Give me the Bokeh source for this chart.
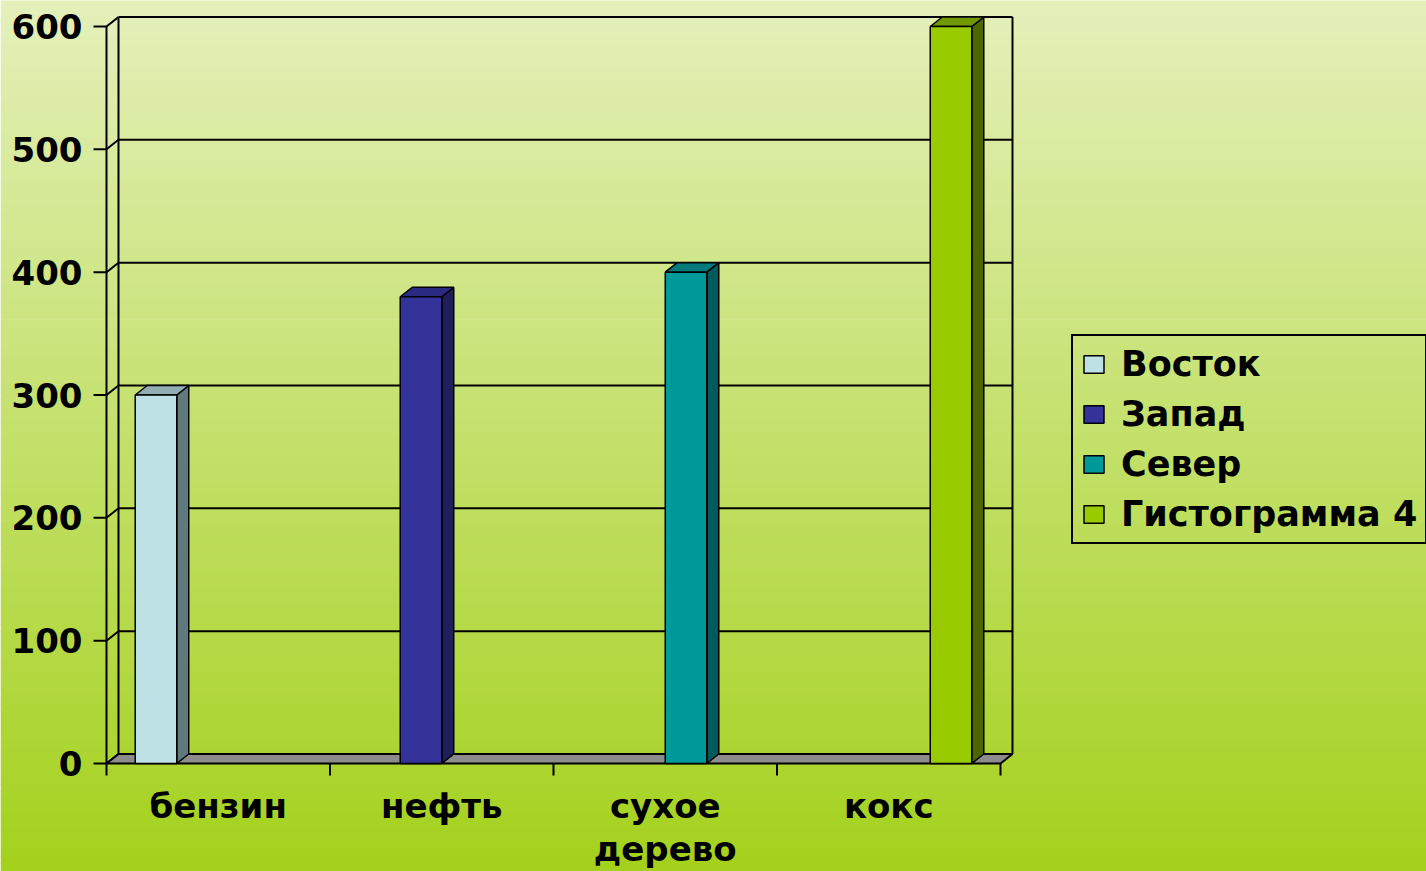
from bokeh.plotting import figure
from bokeh.models import Range1d, Legend, LegendItem
from bokeh.embed import file_html
from bokeh.resources import INLINE
from bokeh.core.properties import value

# ---------------- data ----------------
categories = ["бензин", "нефть", "сухое\nдерево", "кокс"]
series_names = ["Восток", "Запад", "Север", "Гистограмма 4"]
vostok = [300, 0, 0, 0]
zapad = [0, 380, 0, 0]
sever = [0, 0, 400, 0]
gist4 = [0, 0, 0, 600]
y_ticks = [0, 100, 200, 300, 400, 500, 600]

series_values = [vostok, zapad, sever, gist4]
front_colors = ["#bde1e4", "#333399", "#009999", "#99cc00"]
side_colors = ["#5f7a7c", "#1f1f5c", "#005c5c", "#4d6600"]
top_colors = ["#93aeb2", "#2a2a80", "#007a7a", "#739900"]

# ---------------- layout constants ----------------
W, H = 1426, 871
PX_PER_CAT = 223.5
PX_PER_VAL = 737 / 600
X0_PX = 106    # category-0 position from figure left
Y0_PX = 763    # value-0 position from figure top
x_start = -X0_PX / PX_PER_CAT
x_end = (W - X0_PX) / PX_PER_CAT
y_end = Y0_PX / PX_PER_VAL
y_start = -(H - Y0_PX) / PX_PER_VAL
DX = 12 / PX_PER_CAT
DY = 9.5 / PX_PER_VAL
NCAT = len(categories)
NSER = len(series_names)
GAP = 0.1285
BW = (1 - 2 * GAP) / NSER
FONT = value("DejaVu Sans")

p = figure(width=W, height=H, x_range=Range1d(x_start, x_end), y_range=Range1d(y_start, y_end),
           output_backend="svg", toolbar_location=None, min_border=0,
           x_axis_location=None, y_axis_location=None, outline_line_color=None)
p.grid.visible = False

# ---------------- gradient background ----------------
top_c = (0xe4, 0xf0, 0xba)
bot_c = (0xa4, 0xd1, 0x1c)
n = 120
bands_b, bands_t, bands_c = [], [], []
for k in range(n):
    f = k / (n - 1)
    b = y_start + (y_end - y_start) * k / n
    t = y_start + (y_end - y_start) * (k + 1) / n
    c = tuple(int(round(bot_c[i] + (top_c[i] - bot_c[i]) * f)) for i in range(3))
    bands_b.append(b)
    bands_t.append(t + 0.6)
    bands_c.append("#%02x%02x%02x" % c)
p.quad(left=x_start, right=x_end, bottom=bands_b, top=bands_t, fill_color=bands_c, line_color=None)

# ---------------- back wall gridlines ----------------
grid_vals = y_ticks[1:]
p.segment(x0=[DX] * len(grid_vals), y0=[v + DY for v in grid_vals],
          x1=[NCAT + DX] * len(grid_vals), y1=[v + DY for v in grid_vals],
          line_color="black", line_width=2)
# left connectors between front axis and wall
p.segment(x0=[0] * len(y_ticks), y0=y_ticks, x1=[DX] * len(y_ticks), y1=[v + DY for v in y_ticks],
          line_color="black", line_width=2)
# wall verticals
ymax = y_ticks[-1]
p.segment(x0=[DX, NCAT + DX], y0=[DY, DY], x1=[DX, NCAT + DX], y1=[ymax + DY, ymax + DY],
          line_color="black", line_width=2)

# ---------------- floor ----------------
p.patch(x=[0, NCAT, NCAT + DX, DX], y=[0, 0, DY, DY], fill_color="#8c8c8c",
        line_color="black", line_width=2)

# ---------------- bars ----------------
legend_items = []
for j in range(NSER):
    vals = series_values[j]
    lefts, rights, tops = [], [], []
    for i in range(NCAT):
        if vals[i] > 0:
            x0 = i + GAP + j * BW
            lefts.append(x0)
            rights.append(x0 + BW)
            tops.append(vals[i])
    side_xs = [[r, r + DX, r + DX, r] for r in rights]
    side_ys = [[0, DY, t + DY, t] for t in tops]
    top_xs = [[l, r, r + DX, l + DX] for l, r in zip(lefts, rights)]
    top_ys = [[t, t, t + DY, t + DY] for t in tops]
    p.patches(xs=side_xs, ys=side_ys, fill_color=side_colors[j], line_color="black", line_width=1.5)
    p.patches(xs=top_xs, ys=top_ys, fill_color=top_colors[j], line_color="black", line_width=1.5)
    r = p.quad(left=lefts, right=rights, bottom=[0] * len(tops), top=tops,
               fill_color=front_colors[j], line_color="black", line_width=1.5)
    legend_items.append(LegendItem(label=series_names[j], renderers=[r]))

# ---------------- front axes ----------------
p.segment(x0=[0], y0=[0], x1=[0], y1=[ymax], line_color="black", line_width=2)
tick_len_x = 13 / PX_PER_CAT
p.segment(x0=[-tick_len_x] * len(y_ticks), y0=y_ticks, x1=[0] * len(y_ticks), y1=y_ticks,
          line_color="black", line_width=2)
tick_len_y = 12 / PX_PER_VAL
cat_edges = list(range(NCAT + 1))
p.segment(x0=cat_edges, y0=[0] * len(cat_edges), x1=cat_edges, y1=[-tick_len_y] * len(cat_edges),
          line_color="black", line_width=2)

p.text(x=[0] * len(y_ticks), y=y_ticks, text=[str(t) for t in y_ticks], x_offset=-24,
       text_align="right", text_baseline="middle", text_font=FONT, text_font_style="bold",
       text_font_size="34px", text_color="black")
p.text(x=[i + 0.5 for i in range(NCAT)], y=[0] * NCAT, text=categories, y_offset=22,
       text_align="center", text_baseline="top", text_font=FONT, text_font_style="bold",
       text_font_size="34px", text_color="black", text_line_height=1.08)

# ---------------- legend ----------------
legend = Legend(items=legend_items, location=(1071, 327), border_line_color="black",
                border_line_width=2, border_line_alpha=1.0, background_fill_alpha=0,
                label_text_font="DejaVu Sans", label_text_color="black",
                label_text_font_style="bold", label_text_font_size="35px",
                glyph_width=25, glyph_height=22, label_standoff=15, padding=8,
                spacing=10, margin=0)
p.add_layout(legend)

open("out.html", "w").write(file_html(p, INLINE))
